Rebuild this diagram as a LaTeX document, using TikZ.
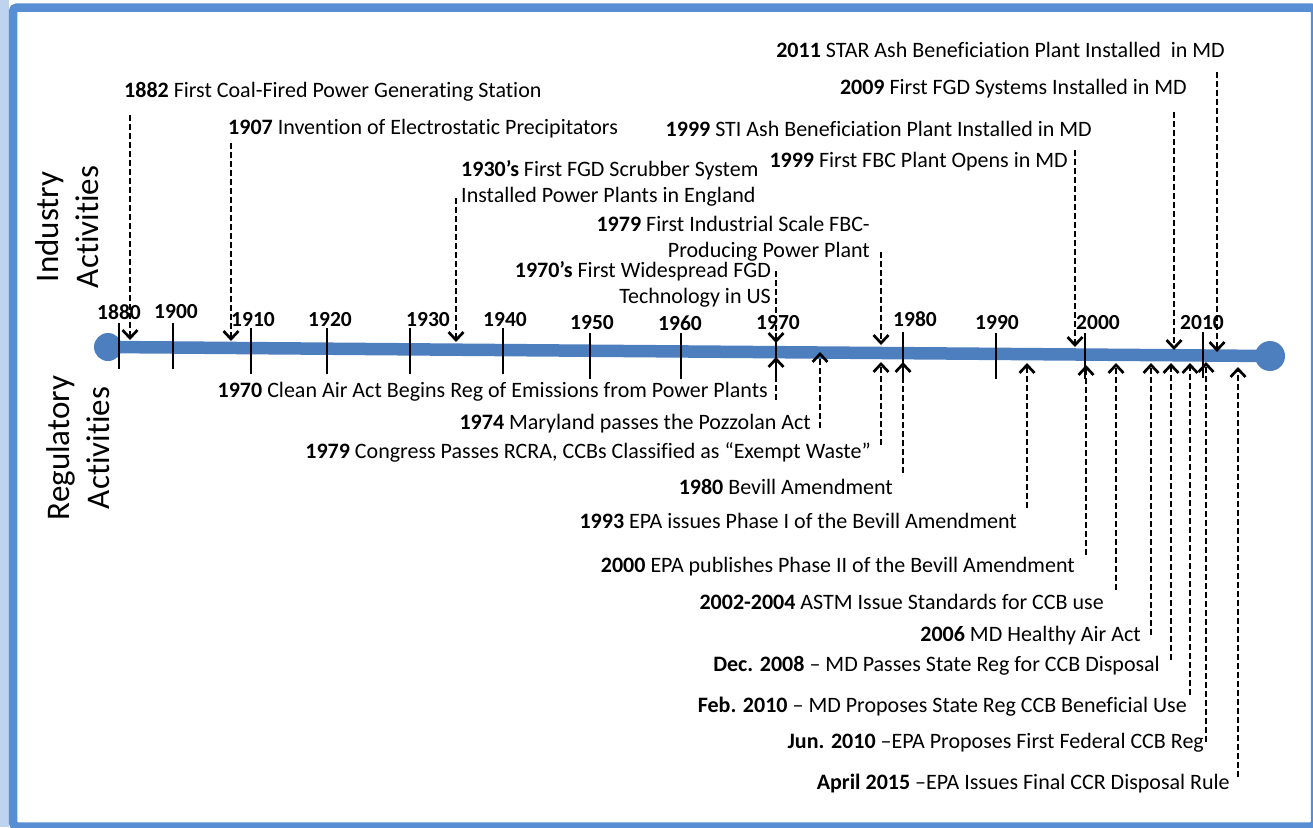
\documentclass[tikz,border=0pt]{standalone}
\usepackage{fontspec}
\setmainfont{Carlito}[Ligatures={TeX,NoCommon}]
\usetikzlibrary{arrows.meta,positioning,calc}
\definecolor{framebl}{RGB}{88,143,212}
\definecolor{glowbl}{RGB}{189,211,238}
\definecolor{linebl}{RGB}{77,126,189}

\begin{document}
\begin{tikzpicture}[x=1pt,y=-1pt,>={Straight Barb[length=8pt,width=15pt]},
    txt/.style={inner sep=0pt,font=\fontsize{22}{26}\selectfont},
    side/.style={inner sep=0pt,align=center,rotate=90,font=\fontsize{33}{40}\selectfont},
    yearlbl/.style={inner sep=0pt,font=\bfseries\fontsize{21.5}{25}\selectfont},
    yeartick/.style={line width=2.7pt},
    evarrow/.style={->,line width=2.7pt,dash pattern=on 6pt off 3pt}]
  \useasboundingbox (0,0) rectangle (1313,827);
  \fill[glowbl] (0,0) rectangle (9,827);
  \draw[framebl,line width=8.5pt,rounded corners=4pt] (13,7.5) rectangle (1315,826.5);

  \node[side] (ind) at (67,227) {Industry\\Activities};
  \node[side] (reg) at (78,448) {Regulatory\\Activities};

  \node[circle,fill=linebl,inner sep=0pt,minimum size=28pt] (tlL) at (108,347) {};
  \node[circle,fill=linebl,inner sep=0pt,minimum size=30pt] (tlR) at (1270,356) {};
  \draw[linebl,line width=12.5pt] (tlL.center) -- (tlR.center);

  \foreach \yr/\x/\t/\lx/\ly in {1880/119/323/119/312, 1900/173/323/176/312,
      1910/251/328/253/320, 1920/327/328/330/320, 1930/410/328/428/320,
      1940/503/328/505/320, 1950/590/333/592/323, 1960/681/333/680/323,
      1970/776/333/778/323, 1980/903/332/915/319, 1990/996/333/997/323,
      2000/1085/333/1098/323, 2010/1203/332/1202/323}{
    \draw[yeartick] (\x,\t) -- ++(0,46);
    \node[yearlbl] (y\yr) at (\lx,\ly) {\yr};
  }

  \node[txt,anchor=west] (i1882) at (124,92) {\textbf{1882} First Coal-Fired Power Generating Station};
  \node[txt,anchor=west] (i1907) at (228,129) {\textbf{1907} Invention of Electrostatic Precipitators};
  \node[txt,anchor=west,align=left] (i1930) at (461,183) {\textbf{1930’s} First FGD Scrubber System\\Installed Power Plants in England};
  \node[txt,anchor=east,align=right] (i1979) at (870,239) {\textbf{1979} First Industrial Scale FBC-\\Producing Power Plant};
  \node[txt,anchor=east,align=right] (i1970) at (771,284) {\textbf{1970’s} First Widespread FGD\\Technology in US};
  \node[txt,anchor=east] (i1999b) at (1068,162) {\textbf{1999} First FBC Plant Opens in MD};
  \node[txt,anchor=east] (i1999a) at (1092,129) {\textbf{1999} STI Ash Beneficiation Plant Installed in MD};
  \node[txt,anchor=east] (i2009) at (1187,89) {\textbf{2009} First FGD Systems Installed in MD};
  \node[txt,anchor=east] (i2011) at (1225,50) {\textbf{2011} STAR Ash Beneficiation Plant Installed \ in MD};

  \node[txt,anchor=east] (r1970) at (768,392) {\textbf{1970} Clean Air Act Begins Reg of Emissions from Power Plants};
  \node[txt,anchor=east] (r1974) at (811,424) {\textbf{1974} Maryland passes the Pozzolan Act};
  \node[txt,anchor=east] (r1979) at (871,452) {\textbf{1979} Congress Passes RCRA, CCBs Classified as “Exempt Waste”};
  \node[txt,anchor=east] (r1980) at (893,487) {\textbf{1980} Bevill Amendment};
  \node[txt,anchor=east] (r1993) at (1017,521) {\textbf{1993} EPA issues Phase I of the Bevill Amendment};
  \node[txt,anchor=east] (r2000) at (1075,567) {\textbf{2000} EPA publishes Phase II of the Bevill Amendment};
  \node[txt,anchor=east] (r2002) at (1104,602) {\textbf{2002-2004} ASTM Issue Standards for CCB use};
  \node[txt,anchor=east] (r2006) at (1141,636) {\textbf{2006} MD Healthy Air Act};
  \node[txt,anchor=east] (r2008) at (1160,666) {\textbf{Dec. 2008} – MD Passes State Reg for CCB Disposal};
  \node[txt,anchor=east] (r2010a) at (1187,707) {\textbf{Feb. 2010} – MD Proposes State Reg CCB Beneficial Use};
  \node[txt,anchor=east] (r2010b) at (1204,743) {\textbf{Jun. 2010} –EPA Proposes First Federal CCB Reg};
  \node[txt,anchor=east] (r2015) at (1230,784) {\textbf{April 2015} –EPA Issues Final CCR Disposal Rule};

  \foreach \n/\x/\a/\b in {i1882/130/115/340, i1907/231/143/341, i1930/456/198/342,
      i1970/776/271/343, i1979/881/252/345, i1999/1075/150/347, i2009/1174/112/350,
      i2011/1217/72/352,
      r1970/776/400/357, r1974/820/428/352, r1979/881/445/362, r1980/903/473/362,
      r1993/1027/508/363, r2000/1086/555/365, r2002/1116/590/363, r2006/1151/635/363,
      r2008/1171/660/363, r2010a/1190/695/363, r2010b/1206/742/362, r2015/1238/777/367}{
    \coordinate (s\n) at (\x,\a);
    \coordinate (e\n) at (\x,\b);
    \draw[evarrow] (s\n) -- (e\n);
  }
\end{tikzpicture}
\end{document}
